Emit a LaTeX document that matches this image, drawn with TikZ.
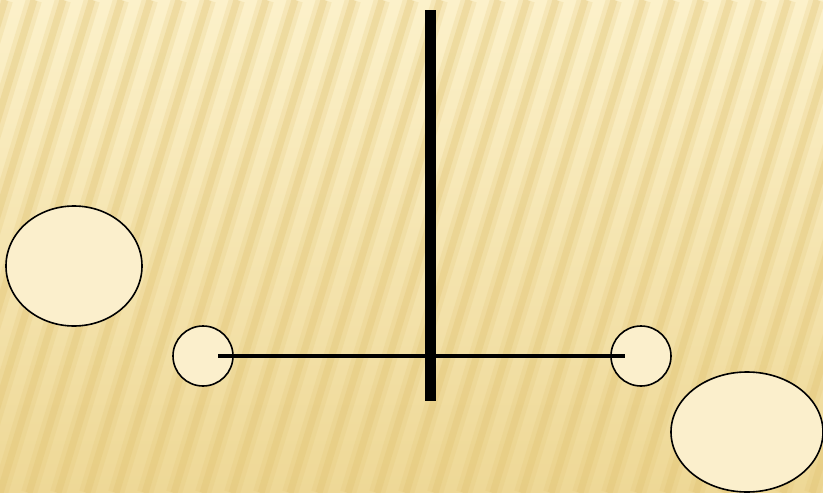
\documentclass[tikz,border=0pt]{standalone}
\usetikzlibrary{shapes.geometric}
\definecolor{paper}{RGB}{252,241,202}
\definecolor{paperdark}{RGB}{238,216,150}
\definecolor{stripe}{RGB}{224,194,112}
\definecolor{ballfill}{RGB}{251,239,204}
\tikzset{
  ball/.style={circle,draw,line width=1.6pt,fill=ballfill,minimum size=60pt,inner sep=0pt},
  blob/.style={ellipse,draw,line width=1.6pt,fill=ballfill,inner sep=0pt}
}
\begin{document}
\begin{tikzpicture}[x=1pt,y=-1pt]
        \useasboundingbox (0,0) rectangle (823,493);
        \shade[top color=paper,bottom color=paperdark] (0,0) rectangle (823,493);
        \clip (0,0) rectangle (823,493);
        \foreach \i in {-8,...,30}
          {\draw[stripe,line width=16pt,opacity=0.2] (\i*29,493)--(\i*29+150,0);
           \draw[stripe,line width=7pt,opacity=0.3] (\i*29,493)--(\i*29+150,0);}
        \node[blob,minimum width=136pt,minimum height=120pt] (lblob) at (74,266) {};
        \node[blob,minimum width=152pt,minimum height=120pt] (rblob) at (747,432) {};
        \node[ball] (lball) at (203,356) {};
        \node[ball] (rball) at (641,356) {};
        \coordinate (lend) at (218,356);
        \coordinate (rend) at (625,356);
        \coordinate (ptop) at (430,10);
        \coordinate (pbot) at (430,401);
        \draw[line width=3.5pt] (lend)--(rend);
        \draw[line width=11pt] (ptop)--(pbot);
\end{tikzpicture}
\end{document}
